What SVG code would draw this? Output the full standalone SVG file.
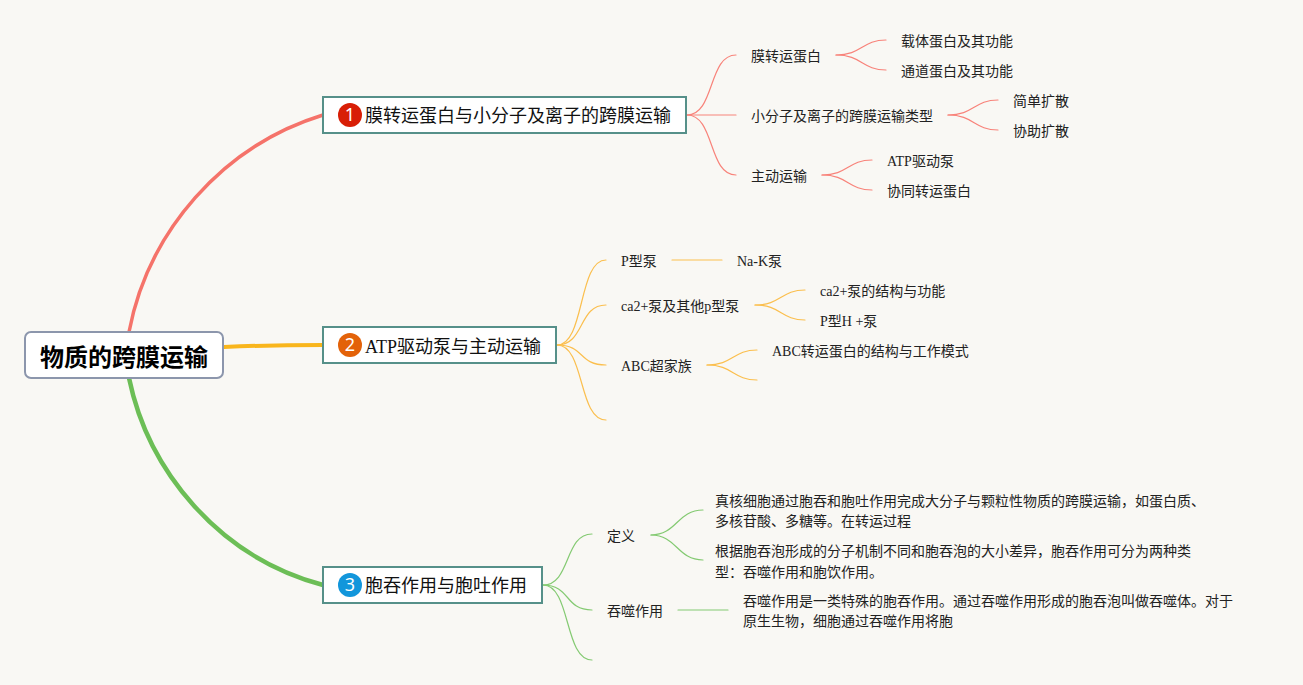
<svg xmlns="http://www.w3.org/2000/svg" width="1303" height="685" viewBox="0 0 1303 685">
<style>
text{font-family:"Liberation Serif","Noto Sans CJK SC",serif;fill:#222}
.s{font-size:14px}
.m{font-size:18px;fill:#111}
.r{font-size:24px;font-weight:bold;fill:#000;font-family:"Noto Sans CJK SC",sans-serif}
.d{font-size:18px;fill:#fff;font-family:"Noto Sans",sans-serif;text-anchor:middle}
.b{fill:#fff;stroke:#569089;stroke-width:2}
path{fill:none;stroke-linecap:round}
.cr{stroke:#f5736a}.co{stroke:#f9b61c}.cg{stroke:#6cbe56}
.t{stroke-width:1.2}
.red{stroke:#f8837a}.ora{stroke:#fbbf4e}.gre{stroke:#84ca72}
</style>
<rect width="1303" height="685" fill="#f9f8f4"/>
<g id="connectors">
<path class="cr" stroke-width="3.500" d="M129 332C148 232 222 146 323 115"/>
<path class="co" stroke-width="4" d="M224 347Q270 345 323 345"/>
<path class="cg" stroke-width="4.500" d="M129 378C148 470 218 557 323 585"/>
<g class="t red">
<path d="M687 115C715 115 708 55 736 55"/><path d="M687 115H736"/><path d="M687 115C715 115 708 175 736 175"/>
<path d="M836 55C862 55 862 40 886 40"/><path d="M836 55C862 55 862 70 886 70"/>
<path d="M948 115C974 115 974 100 998 100"/><path d="M948 115C974 115 974 130 998 130"/>
<path d="M822 175C848 175 848 160 872 160"/><path d="M822 175C848 175 848 190 872 190"/>
</g>
<g class="t ora">
<path d="M557 345C585 345 578 260 606 260"/><path d="M557 345C585 345 578 305 606 305"/><path d="M557 345C585 345 578 365 606 365"/><path d="M557 345C585 345 578 420 606 420"/>
<path d="M672 260H722"/>
<path d="M755 305C781 305 781 290 805 290"/><path d="M755 305C781 305 781 320 805 320"/>
<path d="M707 365C733 365 733 350 757 350"/><path d="M707 365C733 365 733 380 757 380"/>
</g>
<g class="t gre">
<path d="M543 585C571 585 564 534 592 534"/><path d="M543 585C571 585 564 610 592 610"/><path d="M543 585C571 585 564 660 592 660"/>
<path d="M651 535C677 535 677 510 703 510"/><path d="M651 535C677 535 677 560 703 560"/>
<path d="M678 610H728"/>
</g>
</g>
<g id="root"><rect x="25" y="332" width="198" height="46" rx="6" fill="#fff" stroke="#8c96ac" stroke-width="2"/><text class="r" x="40" y="366">物质的跨膜运输</text></g>
<g id="topic1"><rect class="b" x="323" y="97" width="363" height="36"/><circle cx="350" cy="115" r="12" fill="#d81e06"/><text class="d" x="350" y="121">1</text><text class="m" x="365" y="122">膜转运蛋白与小分子及离子的跨膜运输</text></g>
<g id="topic2"><rect class="b" x="323" y="327" width="233" height="36"/><circle cx="350" cy="345" r="12" fill="#e36209"/><text class="d" x="350" y="351">2</text><text class="m" x="365" y="353">ATP驱动泵与主动运输</text></g>
<g id="topic3"><rect class="b" x="323" y="567" width="219" height="36"/><circle cx="350" cy="585" r="12" fill="#1296db"/><text class="d" x="350" y="591">3</text><text class="m" x="365" y="592">胞吞作用与胞吐作用</text></g>
<g id="n1"><text class="s" x="751" y="61">膜转运蛋白</text></g>
<g id="n2"><text class="s" x="901" y="46">载体蛋白及其功能</text></g>
<g id="n3"><text class="s" x="901" y="76">通道蛋白及其功能</text></g>
<g id="n4"><text class="s" x="751" y="121">小分子及离子的跨膜运输类型</text></g>
<g id="n5"><text class="s" x="1013" y="106">简单扩散</text></g>
<g id="n6"><text class="s" x="1013" y="136">协助扩散</text></g>
<g id="n7"><text class="s" x="751" y="181">主动运输</text></g>
<g id="n8"><text class="s" x="887" y="166">ATP驱动泵</text></g>
<g id="n9"><text class="s" x="887" y="196">协同转运蛋白</text></g>
<g id="n10"><text class="s" x="621" y="266">P型泵</text></g>
<g id="n11"><text class="s" x="737" y="266">Na-K泵</text></g>
<g id="n12"><text class="s" x="621" y="311">ca2+泵及其他p型泵</text></g>
<g id="n13"><text class="s" x="820" y="296">ca2+泵的结构与功能</text></g>
<g id="n14"><text class="s" x="820" y="326">P型H +泵</text></g>
<g id="n15"><text class="s" x="621" y="371">ABC超家族</text></g>
<g id="n16"><text class="s" x="772" y="356">ABC转运蛋白的结构与工作模式</text></g>
<g id="n17"><text class="s" x="607" y="541">定义</text></g>
<g id="n18"><text class="s" x="715" y="506">真核细胞通过胞吞和胞吐作用完成大分子与颗粒性物质的跨膜运输，如蛋白质、</text><text class="s" x="715" y="526">多核苷酸、多糖等。在转运过程</text></g>
<g id="n19"><text class="s" x="715" y="556">根据胞吞泡形成的分子机制不同和胞吞泡的大小差异，胞吞作用可分为两种类</text><text class="s" x="715" y="577">型：吞噬作用和胞饮作用。</text></g>
<g id="n20"><text class="s" x="607" y="616">吞噬作用</text></g>
<g id="n21"><text class="s" x="743" y="606">吞噬作用是一类特殊的胞吞作用。通过吞噬作用形成的胞吞泡叫做吞噬体。对于</text><text class="s" x="743" y="626">原生生物，细胞通过吞噬作用将胞</text></g>
</svg>
